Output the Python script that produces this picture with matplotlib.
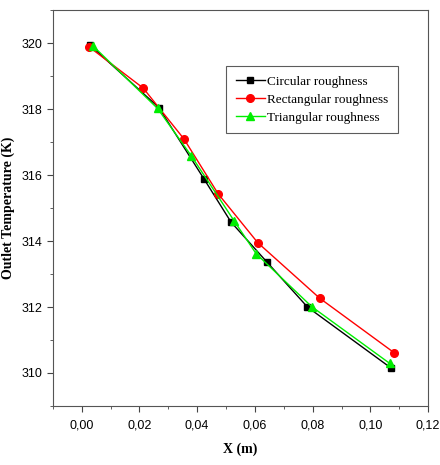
import matplotlib.pyplot as plt
from matplotlib.ticker import MultipleLocator, FuncFormatter

x_circ = [0.0028, 0.0267, 0.0424, 0.0517, 0.0641, 0.0782, 0.1070]
t_circ = [319.95, 318.05, 315.88, 314.58, 313.37, 312.00, 310.16]

x_rect = [0.0024, 0.0213, 0.0354, 0.0473, 0.0610, 0.0824, 0.1083]
t_rect = [319.90, 318.64, 317.10, 315.43, 313.95, 312.27, 310.61]

x_tri = [0.0039, 0.0263, 0.0380, 0.0529, 0.0604, 0.0797, 0.1067]
t_tri = [319.92, 318.02, 316.58, 314.60, 313.62, 312.01, 310.29]

fig = plt.figure(figsize=(4.4, 4.65), dpi=100)
ax = fig.add_axes([0.12, 0.127, 0.853, 0.851])

ax.plot(x_circ, t_circ, color='black', marker='s', markersize=5, lw=1, label='Circular roughness')
ax.plot(x_rect, t_rect, color='red', marker='o', markersize=5.5, lw=1, label='Rectangular roughness')
ax.plot(x_tri, t_tri, color='#00ee00', marker='^', markersize=6, lw=1, label='Triangular roughness')

ax.set_xlim(-0.01, 0.12)
ax.set_ylim(309, 321)
ax.xaxis.set_major_locator(MultipleLocator(0.02))
ax.xaxis.set_minor_locator(MultipleLocator(0.01))
ax.yaxis.set_major_locator(MultipleLocator(2))
ax.yaxis.set_minor_locator(MultipleLocator(1))
ax.xaxis.set_major_formatter(FuncFormatter(lambda v, p: ('%.2f' % v).replace('.', ',')))

for lab in ax.get_xticklabels() + ax.get_yticklabels():
    lab.set_family('Liberation Sans')
    lab.set_fontsize(9)

ax.tick_params(which='both', direction='out', top=False, right=False, color='#444444')
ax.tick_params(which='major', length=4)
ax.tick_params(which='minor', length=2.5)
ax.tick_params(axis='x', pad=6)
for s in ax.spines.values():
    s.set_color('#555555')

ax.set_xlabel('X (m)', family='Liberation Serif', fontweight='bold', fontsize=10, labelpad=8)
ax.set_ylabel('Outlet Temperature (K)', family='Liberation Serif', fontweight='bold', fontsize=10, labelpad=5)

leg = ax.legend(loc='upper right', bbox_to_anchor=(0.937, 0.875), prop={'family': 'Liberation Serif', 'size': 9.5},
                fancybox=False, edgecolor='#333333', handlelength=2.2, borderpad=0.7, labelspacing=0.45,
                handletextpad=0.2)
leg.get_frame().set_linewidth(0.8)

fig.savefig('out.png', dpi=100)
